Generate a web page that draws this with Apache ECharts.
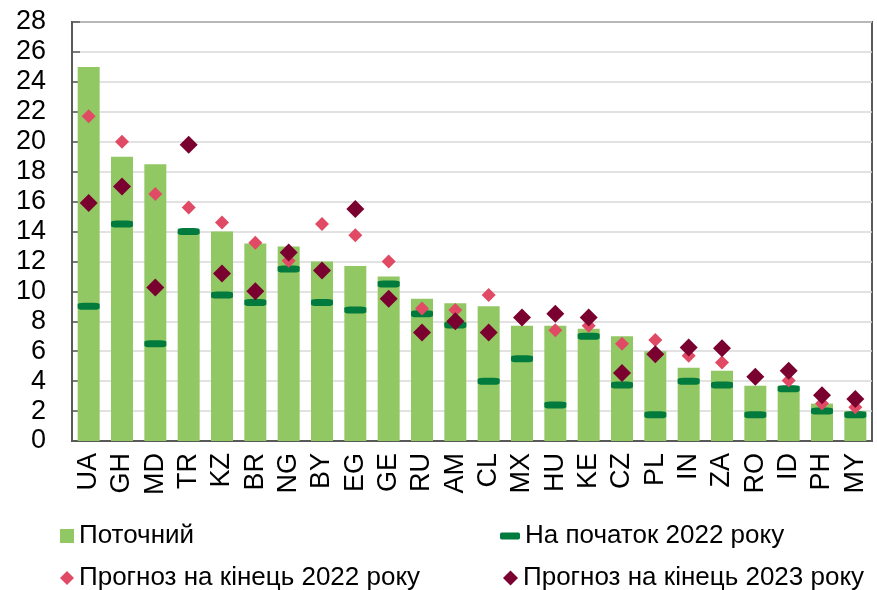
<!DOCTYPE html>
<html>
<head>
<meta charset="utf-8">
<script src="https://cdn.jsdelivr.net/npm/echarts@6/dist/echarts.min.js"></script>
<style>html,body{margin:0;padding:0;background:#fff}#c{width:877px;height:590px}</style>
</head>
<body>
<div id="c"></div>
<script>
const categories = ['UA','GH','MD','TR','KZ','BR','NG','BY','EG','GE','RU','AM','CL','MX','HU','KE','CZ','PL','IN','ZA','RO','ID','PH','MY'];
const yTicks = [0, 28, 2];
const current = [25.0, 19.0, 18.5, 14.0, 14.0, 13.2, 13.0, 12.0, 11.7, 11.0, 9.5, 9.2, 9.0, 7.7, 7.7, 7.5, 7.0, 6.0, 4.9, 4.7, 3.7, 3.7, 2.5, 2.0];
const start2022 = [9.0, 14.5, 6.5, 14.0, 9.75, 9.25, 11.5, 9.25, 8.75, 10.5, 8.5, 7.75, 4.0, 5.5, 2.4, 7.0, 3.75, 1.75, 4.0, 3.75, 1.75, 3.5, 2.0, 1.75];
const forecast2022 = [21.7, 20.0, 16.5, 15.6, 14.6, 13.25, 12.05, 14.5, 13.75, 12.0, 8.85, 8.75, 9.75, 8.25, 7.4, 7.7, 6.5, 6.75, 5.7, 5.25, 4.3, 4.05, 2.5, 2.25];
const forecast2023 = [15.9, 17.0, 10.25, 19.8, 11.2, 10.0, 12.6, 11.4, 15.5, 9.5, 7.25, 8.0, 7.25, 8.25, 8.5, 8.25, 4.55, 5.8, 6.25, 6.2, 4.3, 4.7, 3.05, 2.8];
const names = ['Поточний', 'На початок 2022 року', 'Прогноз на кінець 2022 року', 'Прогноз на кінець 2023 року'];

const FONT = 'Liberation Sans, Arial, sans-serif';
const cGreen = '#92C864', cDash = '#007A3D', cPink = '#E04A65', cDark = '#7A0030';
const chart = echarts.init(document.getElementById('c'), null, {renderer: 'canvas'});
const legText = {fontSize: 26, color: '#000', fontFamily: FONT};
function leg(name, left, top, icon, w, h) {
  return {data: [{name: name, icon: icon}], left: left, top: top, itemWidth: w, itemHeight: h,
    textStyle: legText, selectedMode: false, padding: 0};
}
chart.setOption({
  animation: false,
  textStyle: {fontFamily: FONT},
  grid: {left: 72, right: 5, top: 22, bottom: 149, show: true, borderColor: '#595959', borderWidth: 2, containLabel: false},
  legend: [
    leg(names[0], 60, 523, 'rect', 14, 14),
    leg(names[2], 60, 565, 'diamond', 14, 14),
    leg(names[1], 500, 523, 'roundRect', 20, 7),
    leg(names[3], 503, 565, 'diamond', 15, 15)
  ],
  xAxis: {
    type: 'category', data: categories,
    axisLine: {lineStyle: {color: '#595959', width: 2}},
    axisTick: {inside: true, length: 7, lineStyle: {color: '#595959', width: 1.5}},
    axisLabel: {rotate: 90, fontSize: 27, color: '#000', margin: 12, fontFamily: FONT, interval: 0},
    splitLine: {show: false}
  },
  yAxis: {
    type: 'value', min: yTicks[0], max: yTicks[1], interval: yTicks[2],
    axisLine: {show: true, lineStyle: {color: '#595959', width: 2}},
    axisTick: {show: true, inside: true, length: 8, lineStyle: {color: '#595959', width: 1.5}},
    axisLabel: {fontSize: 27, color: '#000', margin: 26, fontFamily: FONT},
    splitLine: {lineStyle: {color: '#D9D9D9', width: 1.5}}
  },
  series: [
    {name: names[0], type: 'bar', data: current, barWidth: '66%', itemStyle: {color: cGreen, opacity: 1}, z: 2},
    {name: names[1], type: 'scatter', data: start2022, symbol: 'roundRect', symbolSize: [22, 7], itemStyle: {color: cDash, opacity: 1}, z: 3},
    {name: names[2], type: 'scatter', data: forecast2022, symbol: 'diamond', symbolSize: 14, itemStyle: {color: cPink, opacity: 1}, z: 4},
    {name: names[3], type: 'scatter', data: forecast2023, symbol: 'diamond', symbolSize: 18, itemStyle: {color: cDark, opacity: 1}, z: 5}
  ]
});
</script>
</body>
</html>
